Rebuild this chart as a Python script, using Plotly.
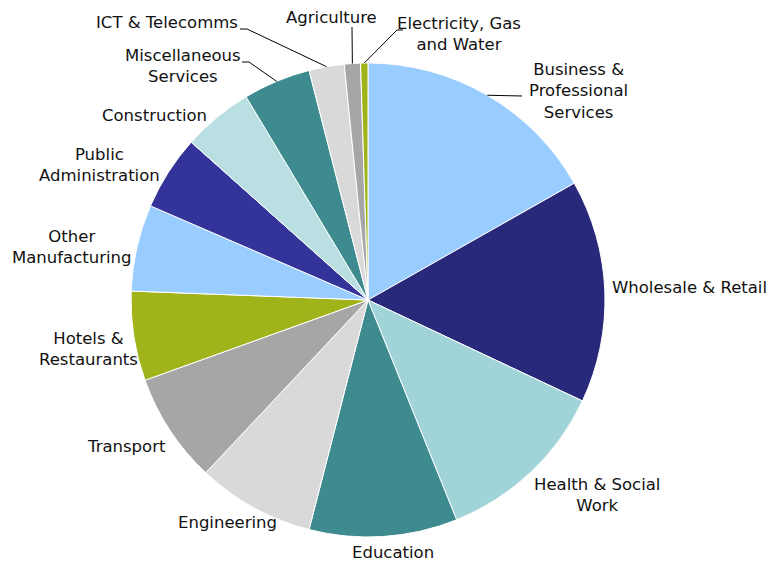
import math
import plotly.graph_objects as go

# Share of employment by sector (%), clockwise from 12 o'clock
sectors = [
    "Business & Professional Services",
    "Wholesale & Retail",
    "Health & Social Work",
    "Education",
    "Engineering",
    "Transport",
    "Hotels & Restaurants",
    "Other Manufacturing",
    "Public Administration",
    "Construction",
    "Miscellaneous Services",
    "ICT & Telecomms",
    "Agriculture",
    "Electricity, Gas and Water",
]
shares = [16.8, 15.2, 11.9, 10.1, 8.0, 7.5, 6.1, 5.9, 5.1, 4.8, 4.6, 2.4, 1.1, 0.5]

# Display text for each label (line breaks as drawn)
label_text = [
    "Business &<br>Professional<br>Services",
    "Wholesale & Retail",
    "Health & Social<br>Work",
    "Education",
    "Engineering",
    "Transport",
    "Hotels &<br>Restaurants",
    "Other<br>Manufacturing",
    "Public<br>Administration",
    "Construction",
    "Miscellaneous<br>Services",
    "ICT & Telecomms",
    "Agriculture",
    "Electricity, Gas<br>and Water",
]

colors = [
    "#99CCFF", "#29297C", "#A1D4D8", "#3D8A8F", "#D9D9D9", "#A6A6A6", "#A0B31A",
    "#99CCFF", "#333399", "#B9DFE3", "#3D8A8F", "#D9D9D9", "#A6A6A6", "#A0B31A",
]

W, H = 770, 564
cx, cy, R = 368, 300, 237
FONT = dict(family="DejaVu Sans", size=16.5, color="#111111")


def px(x):
    return x / W


def py(y):
    return 1 - y / H


# Label block centres (pixels)
label_pos = [
    (578, 91), (689, 287), (597, 495), (393, 552), (227, 522), (126, 446),
    (88, 349), (71, 247), (100, 165), (154, 115), (183, 66), (167, 23),
    (331, 18), (459, 34),
]

# Leader line elbows for labels that sit away from their slice (pixels)
leader_elbows = {
    0: [(522, 96)],
    10: [(249, 62), (242, 62)],
    11: [(247, 29), (240, 29)],
    12: [(352, 27)],
    13: [(397, 30), (403, 30)],
}

total = sum(shares)
mid_angles = []
acc = 0.0
for v in shares:
    mid_angles.append((acc + v / 2) / total * 360.0)
    acc += v


def edge_point(deg):
    a = math.radians(deg)
    return cx + R * math.sin(a), cy - R * math.cos(a)


fig = go.Figure(
    go.Pie(
        labels=sectors,
        values=shares,
        sort=False,
        direction="clockwise",
        rotation=0,
        textinfo="none",
        hoverinfo="label+percent",
        marker=dict(colors=colors, line=dict(color="white", width=1)),
        domain=dict(x=[px(cx - R), px(cx + R)], y=[py(cy + R), py(cy - R)]),
        showlegend=False,
    )
)

annotations = []
for i, (txt, (lx, ly)) in enumerate(zip(label_text, label_pos)):
    annotations.append(
        dict(
            x=px(lx), y=py(ly), xref="paper", yref="paper",
            text=txt, showarrow=False, xanchor="center", yanchor="middle",
            align="center", font=FONT,
        )
    )

shapes = []
for i, elbows in leader_elbows.items():
    pts = [edge_point(mid_angles[i])] + elbows
    path = "M " + " L ".join(f"{px(x):.5f},{py(y):.5f}" for x, y in pts)
    shapes.append(
        dict(type="path", path=path, xref="paper", yref="paper",
             line=dict(color="#000000", width=1))
    )

fig.update_layout(
    width=W, height=H,
    margin=dict(l=0, r=0, t=0, b=0),
    paper_bgcolor="white", plot_bgcolor="white",
    annotations=annotations, shapes=shapes,
)

fig.write_html("out.html")
